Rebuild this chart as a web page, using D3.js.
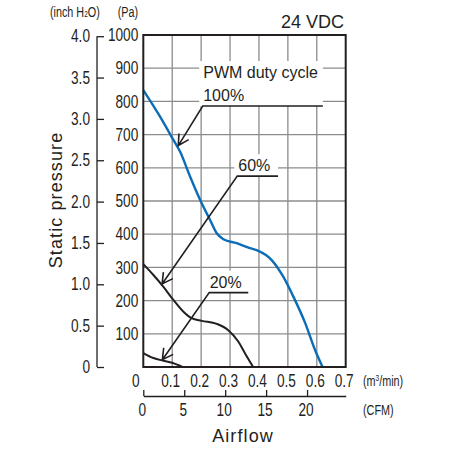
<!DOCTYPE html>
<html>
<head>
<meta charset="utf-8">
<title>Fan P-Q curve</title>
<style>
  body { margin: 0; background: #fff; }
  svg text { fill: #231f20; font-family: "Liberation Sans", Arial, sans-serif; }
</style>
</head>
<body>
<div id="chart"></div>
<script src="https://d3js.org/d3.v7.min.js"></script>
<script>
// airflow in m3/min, static pressure in Pa
const flow100 = [0, 0.058, 0.104, 0.127, 0.162, 0.202, 0.231, 0.254, 0.277, 0.323, 0.369, 0.392, 0.444, 0.484, 0.519, 0.56, 0.594, 0.62];
const pres100 = [834, 754, 684, 649, 573, 493, 443, 403, 385, 373, 358, 352, 322, 272, 212, 132, 51, 0];
const flow60 = [0, 0.035, 0.069, 0.104, 0.138, 0.167, 0.202, 0.254, 0.294, 0.329, 0.352, 0.38];
const pres60 = [310, 277, 242, 202, 167, 147, 139, 130, 111, 76, 41, 0];
const flow20 = [0, 0.035, 0.069, 0.1, 0.12, 0.135];
const pres20 = [42, 27, 19, 13, 6, 0];

const flowTicks = [0.1, 0.2, 0.3, 0.4, 0.5, 0.6, 0.7];
const paTicks = [100, 200, 300, 400, 500, 600, 700, 800, 900, 1000];
const inchTicks = [0, 0.5, 1.0, 1.5, 2.0, 2.5, 3.0, 3.5, 4.0];
const cfmTicks = [0, 5, 10, 15, 20];

// annotations: label, elbow (flow, Pa), end of underline (flow), arrow tip (flow, Pa)
const notes = [
  {label: "100%", ex: 0.2055, ey: 786, endx: 0.621, tx: 0.121, ty: 667},
  {label: "60%", ex: 0.325, ey: 575, endx: 0.466, tx: 0.065, ty: 250},
  {label: "20%", ex: 0.228, ey: 224, endx: 0.363, tx: 0.066, ty: 22}
];

const W = 451, H = 450;
const margin = {top: 35, left: 143.3};
const width = 202.4, height = 332;
const PA_PER_INCH = 249.09;
const M3MIN_PER_CFM = 0.0283168;
const ink = "#231f20";
const blue = "#0b6db7";
const SQUEEZE = 0.78; // condensed look for tick labels

const svg = d3.select("#chart").append("svg")
  .attr("width", W).attr("height", H);

// squeeze text horizontally around its anchor point
function condense(sel, sx) {
  sel.each(function() {
    const t = d3.select(this);
    const tx = +t.attr("x") || 0;
    t.attr("x", 0).attr("transform", `translate(${tx},0) scale(${sx},1)`);
  });
}

const x = d3.scaleLinear().domain([0, 0.7]).range([margin.left, margin.left + width]);
const y = d3.scaleLinear().domain([0, 1000]).range([margin.top + height, margin.top]);
const yInch = d3.scaleLinear().domain([0, 1000 / PA_PER_INCH]).range(y.range());
const xCfm = d3.scaleLinear().domain([0, 0.7 / M3MIN_PER_CFM]).range(x.range());

// grid
const grid = svg.append("g").attr("stroke", "#8c8c8c").attr("stroke-width", 1.3);
grid.selectAll(".vg").data(flowTicks.slice(0, -1)).join("line")
  .attr("x1", d => x(d)).attr("x2", d => x(d))
  .attr("y1", y(0)).attr("y2", y(1000));
grid.selectAll(".hg").data(paTicks.slice(0, -1)).join("line")
  .attr("x1", x(0)).attr("x2", x(0.7))
  .attr("y1", d => y(d)).attr("y2", d => y(d));

// white boxes behind annotation text
const bgLayer = svg.append("g");

// curves
const line = d3.line().x(d => x(d[0])).y(d => y(d[1])).curve(d3.curveMonotoneX);
const series = [
  {f: flow20, p: pres20, c: ink, w: 2},
  {f: flow60, p: pres60, c: ink, w: 2},
  {f: flow100, p: pres100, c: blue, w: 2.4}
];
series.forEach(s => {
  svg.append("path")
    .datum(d3.zip(s.f, s.p))
    .attr("d", line)
    .attr("fill", "none")
    .attr("stroke", s.c)
    .attr("stroke-width", s.w);
});

// annotations
const ann = svg.append("g");
function arrow(n) {
  const x0 = x(n.ex), y0 = y(n.ey), x1 = x(n.tx), y1 = y(n.ty);
  const a = Math.atan2(y1 - y0, x1 - x0);
  const L = 12, spread = 0.5;
  const b1 = [x1 - L * Math.cos(a - spread), y1 - L * Math.sin(a - spread)];
  const b2 = [x1 - L * Math.cos(a + spread), y1 - L * Math.sin(a + spread)];
  return `M${x(n.endx)},${y0}H${x0}L${x1},${y1}M${b1[0]},${b1[1]}L${x1},${y1}L${b2[0]},${b2[1]}`;
}
notes.forEach((n, i) => {
  const g = ann.append("g");
  if (i === 0) {
    g.append("text")
      .attr("x", x(n.ex) + 0.5).attr("y", y(n.ey) - 28)
      .attr("font-size", 16).text("PWM duty cycle");
  }
  g.append("text")
    .attr("x", x(n.ex) + (i === 1 ? 1 : 0.5)).attr("y", y(n.ey) - 5)
    .attr("font-size", 16).text(n.label);
  const bb = g.node().getBBox();
  bgLayer.append("rect")
    .attr("x", bb.x - 4).attr("y", bb.y - 3)
    .attr("width", x(n.endx) - bb.x + 4).attr("height", y(n.ey) - bb.y + 3)
    .attr("fill", "#fff");
  ann.append("path").attr("d", arrow(n))
    .attr("fill", "none").attr("stroke", ink)
    .attr("stroke-width", 1.6).attr("stroke-linejoin", "miter");
});

// frame
svg.append("rect")
  .attr("x", x(0)).attr("y", y(1000))
  .attr("width", width).attr("height", height)
  .attr("fill", "none").attr("stroke", ink).attr("stroke-width", 2);

// Pa axis
const paAxis = svg.append("g")
  .attr("transform", `translate(${x(0)},0)`)
  .call(d3.axisLeft(y).tickValues(paTicks).tickSize(0).tickPadding(5).tickFormat(d3.format("d")));
paAxis.select(".domain").remove();
paAxis.selectAll("text").attr("font-size", 17.5).attr("fill", ink).call(condense, SQUEEZE);

// inch H2O axis
const inchAxis = svg.append("g")
  .attr("transform", "translate(97,0)")
  .call(d3.axisLeft(yInch).tickValues(inchTicks)
    .tickSizeInner(-7).tickSizeOuter(0).tickPadding(7)
    .tickFormat(d => d === 0 ? "0" : d3.format(".1f")(d)));
inchAxis.selectAll("path, line").attr("stroke", ink).attr("stroke-width", 1.3);
inchAxis.select(".domain").attr("d", `M0,${y(0)}V${yInch(4)}`);
inchAxis.selectAll("text").attr("font-size", 17.5).attr("fill", ink).call(condense, SQUEEZE);

// m3/min axis labels
const xAxis = svg.append("g")
  .attr("transform", `translate(0,${y(0)})`)
  .call(d3.axisBottom(x).tickValues([0].concat(flowTicks)).tickSize(0).tickPadding(8)
    .tickFormat(d => d === 0 ? "0" : d3.format(".1f")(d)));
xAxis.select(".domain").remove();
xAxis.selectAll("text").attr("font-size", 17.5).attr("fill", ink)
  .attr("x", d => d === 0 ? -8 : -2).call(condense, SQUEEZE);

// CFM axis
const cfmAxis = svg.append("g")
  .attr("transform", "translate(0,396)")
  .call(d3.axisBottom(xCfm).tickValues(cfmTicks)
    .tickSizeInner(-6).tickSizeOuter(0).tickPadding(8).tickFormat(d3.format("d")));
cfmAxis.selectAll("path, line").attr("stroke", ink).attr("stroke-width", 1.3);
cfmAxis.selectAll("text").attr("font-size", 17.5).attr("fill", ink)
  .attr("x", -1.5).call(condense, SQUEEZE);

// unit labels
const units = svg.append("g").attr("font-size", 15);
const ih = units.append("text").attr("x", 50).attr("y", 17);
ih.append("tspan").text("(inch H");
ih.append("tspan").attr("font-size", 9).text("2");
ih.append("tspan").text("O)");
units.append("text").attr("x", 138).attr("y", 17).attr("text-anchor", "end").text("(Pa)");
const m3 = units.append("text").attr("x", 363).attr("y", 386);
m3.append("tspan").text("(m");
m3.append("tspan").attr("font-size", 9).attr("dy", -5).text("3");
m3.append("tspan").attr("dy", 5).text("/min)");
units.append("text").attr("x", 363).attr("y", 415).text("(CFM)");
units.selectAll("text").call(condense, 0.72);

// titles
svg.append("text")
  .attr("x", 344).attr("y", 28).attr("text-anchor", "end")
  .attr("font-size", 18).text("24 VDC");
svg.append("text")
  .attr("x", 243).attr("y", 442).attr("text-anchor", "middle")
  .attr("font-size", 18).attr("letter-spacing", 1.1).text("Airflow");
svg.append("text")
  .attr("transform", "translate(62,200) rotate(-90)").attr("text-anchor", "middle")
  .attr("font-size", 18).attr("letter-spacing", 1.1).text("Static pressure");
</script>
</body>
</html>
